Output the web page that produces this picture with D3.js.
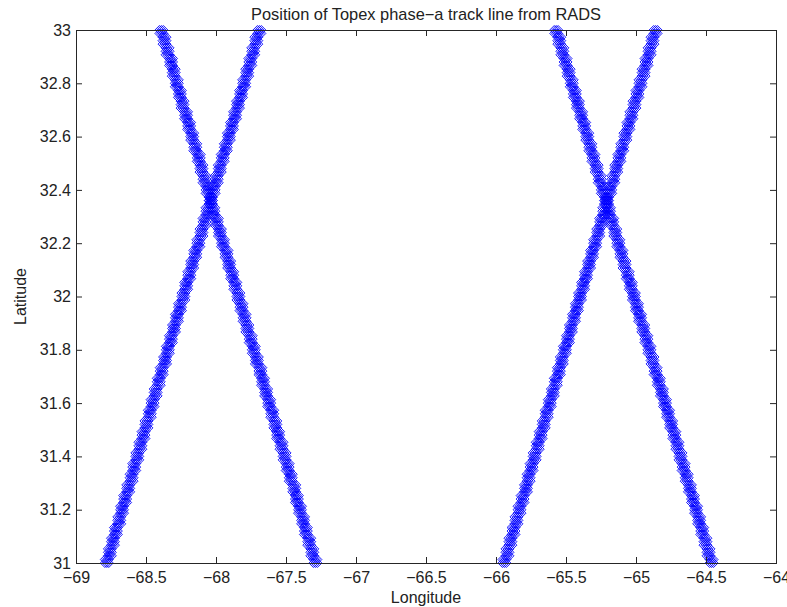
<!DOCTYPE html>
<html>
<head>
<meta charset="utf-8">
<script src="https://cdn.jsdelivr.net/npm/d3@7"></script>
<style>
  body { margin: 0; background: #fff; }
  svg { display: block; font-family: "Liberation Sans", Arial, sans-serif; }
</style>
</head>
<body>
<svg id="chart" width="787" height="607"></svg>
<script>
// latitude samples shared by every pass
var latitudes = [31.00, 31.04, 31.08, 31.12, 31.16, 31.20, 31.24, 31.28, 31.32, 31.36,
  31.40, 31.44, 31.48, 31.52, 31.56, 31.60, 31.64, 31.68, 31.72, 31.76,
  31.80, 31.84, 31.88, 31.92, 31.96, 32.00, 32.04, 32.08, 32.12, 32.16,
  32.20, 32.24, 32.28, 32.32, 32.36, 32.40, 32.44, 32.48, 32.52, 32.56,
  32.60, 32.64, 32.68, 32.72, 32.76, 32.80, 32.84, 32.88, 32.92, 32.96, 33.00];

// longitude of each pass at those latitudes
var lonPassA = [-67.290, -67.312, -67.334, -67.358, -67.378, -67.400, -67.422, -67.441, -67.466, -67.488,
  -67.510, -67.532, -67.556, -67.576, -67.598, -67.620, -67.642, -67.664, -67.683, -67.708,
  -67.730, -67.752, -67.776, -67.796, -67.818, -67.840, -67.862, -67.884, -67.906, -67.925,
  -67.950, -67.972, -67.994, -68.019, -68.038, -68.060, -68.082, -68.104, -68.123, -68.148,
  -68.170, -68.192, -68.214, -68.239, -68.258, -68.280, -68.302, -68.321, -68.346, -68.368, -68.390];
var lonPassB = [-68.780, -68.758, -68.736, -68.715, -68.691, -68.671, -68.649, -68.627, -68.603, -68.584,
  -68.562, -68.540, -68.518, -68.497, -68.473, -68.453, -68.431, -68.409, -68.388, -68.364,
  -68.344, -68.322, -68.300, -68.279, -68.257, -68.233, -68.213, -68.191, -68.170, -68.148,
  -68.126, -68.104, -68.082, -68.061, -68.036, -68.017, -67.995, -67.973, -67.952, -67.930,
  -67.908, -67.886, -67.864, -67.843, -67.821, -67.799, -67.777, -67.755, -67.734, -67.712, -67.690];
var lonPassC = [-65.940, -65.918, -65.897, -65.875, -65.854, -65.832, -65.810, -65.786, -65.767, -65.746,
  -65.724, -65.702, -65.681, -65.659, -65.638, -65.616, -65.594, -65.573, -65.551, -65.530,
  -65.508, -65.486, -65.465, -65.443, -65.422, -65.400, -65.378, -65.357, -65.335, -65.314,
  -65.292, -65.270, -65.249, -65.227, -65.206, -65.184, -65.162, -65.141, -65.119, -65.098,
  -65.076, -65.054, -65.033, -65.011, -64.990, -64.968, -64.946, -64.925, -64.903, -64.882, -64.860];
var lonPassD = [-64.460, -64.482, -64.504, -64.527, -64.549, -64.571, -64.593, -64.615, -64.638, -64.660,
  -64.682, -64.704, -64.726, -64.749, -64.771, -64.793, -64.815, -64.837, -64.860, -64.882,
  -64.904, -64.926, -64.948, -64.971, -64.993, -65.015, -65.037, -65.059, -65.082, -65.104,
  -65.126, -65.148, -65.170, -65.193, -65.215, -65.237, -65.259, -65.281, -65.304, -65.326,
  -65.348, -65.370, -65.392, -65.415, -65.437, -65.459, -65.481, -65.503, -65.526, -65.548, -65.570];

// small position shifts between repeat cycles
var cycleLat = [0, 0, 0, -0.013, -0.013, -0.013, 0.013, 0.013, 0.013];
var cycleLon = [0, -0.014, 0.014, 0, -0.014, 0.014, 0, -0.014, 0.014];

var xTicks = [-69, -68.5, -68, -67.5, -67, -66.5, -66, -65.5, -65, -64.5, -64];
var yTicks = [31, 31.2, 31.4, 31.6, 31.8, 32, 32.2, 32.4, 32.6, 32.8, 33];

var margin = {top: 30, right: 11, bottom: 44, left: 76};

var svg = d3.select("#chart");
var width = +svg.attr("width") - margin.left - margin.right;
var height = +svg.attr("height") - margin.top - margin.bottom;
var g = svg.append("g").attr("transform", "translate(" + margin.left + "," + margin.top + ")");

var x = d3.scaleLinear().domain([-69, -64]).range([0, width]);
var y = d3.scaleLinear().domain([31, 33]).range([height, 0]);

var fmt = function(d) { return String(d).replace("-", "\u2212"); };

// points of all passes
var points = [];
[lonPassA, lonPassB, lonPassC, lonPassD].forEach(function(lons) {
  for (var c = 0; c < cycleLat.length; c++) {
    lons.forEach(function(lon, i) {
      var lat = latitudes[i] + cycleLat[c];
      if (lat < 31 - 1e-9 || lat > 33 + 1e-9) return;
      points.push({lon: lon + cycleLon[c], lat: lat});
    });
  }
});

var r = 4.5;
g.selectAll("path.pt")
  .data(points)
  .enter().append("path")
    .attr("class", "pt")
    .attr("d", "M0," + (-r) + "L" + r + ",0L0," + r + "L" + (-r) + ",0Z")
    .attr("transform", function(d) { return "translate(" + x(d.lon) + "," + y(d.lat) + ")"; })
    .attr("fill", "none")
    .attr("stroke", "#0000ff")
    .attr("stroke-width", 0.9);

// axes, ticks pointing inward on all four sides
var axisColor = "#262626";
function styleAxis(sel) {
  sel.select(".domain").remove();
  sel.selectAll(".tick line").attr("stroke", axisColor);
  sel.selectAll("text").attr("fill", "#222").style("font-size", "16px")
    .style("font-family", "'Liberation Sans', Arial, sans-serif");
}

g.append("g")
  .attr("transform", "translate(0," + height + ")")
  .call(d3.axisBottom(x).tickValues(xTicks).tickFormat(fmt).tickSizeInner(-6).tickSizeOuter(0).tickPadding(9))
  .call(styleAxis);
g.append("g")
  .call(d3.axisTop(x).tickValues(xTicks).tickFormat("").tickSizeInner(-6).tickSizeOuter(0))
  .call(styleAxis);
g.append("g")
  .call(d3.axisLeft(y).tickValues(yTicks).tickFormat(fmt).tickSizeInner(-6).tickSizeOuter(0).tickPadding(5))
  .call(styleAxis);
g.append("g")
  .attr("transform", "translate(" + width + ",0)")
  .call(d3.axisRight(y).tickValues(yTicks).tickFormat("").tickSizeInner(-6).tickSizeOuter(0))
  .call(styleAxis);

g.append("rect")
  .attr("x", 0).attr("y", 0)
  .attr("width", width).attr("height", height)
  .attr("fill", "none")
  .attr("stroke", axisColor)
  .attr("stroke-width", 1)
  .attr("shape-rendering", "crispEdges");

g.append("text")
  .attr("x", width / 2).attr("y", -10)
  .attr("text-anchor", "middle")
  .style("font-size", "16.4px").attr("fill", "#222")
  .text("Position of Topex phase\u2212a track line from RADS");

g.append("text")
  .attr("x", width / 2).attr("y", height + 40)
  .attr("text-anchor", "middle")
  .style("font-size", "16px").attr("fill", "#222")
  .text("Longitude");

g.append("text")
  .attr("transform", "rotate(-90)")
  .attr("x", -height / 2).attr("y", -50)
  .attr("text-anchor", "middle")
  .style("font-size", "16px").attr("fill", "#222")
  .text("Latitude");
</script>
</body>
</html>
